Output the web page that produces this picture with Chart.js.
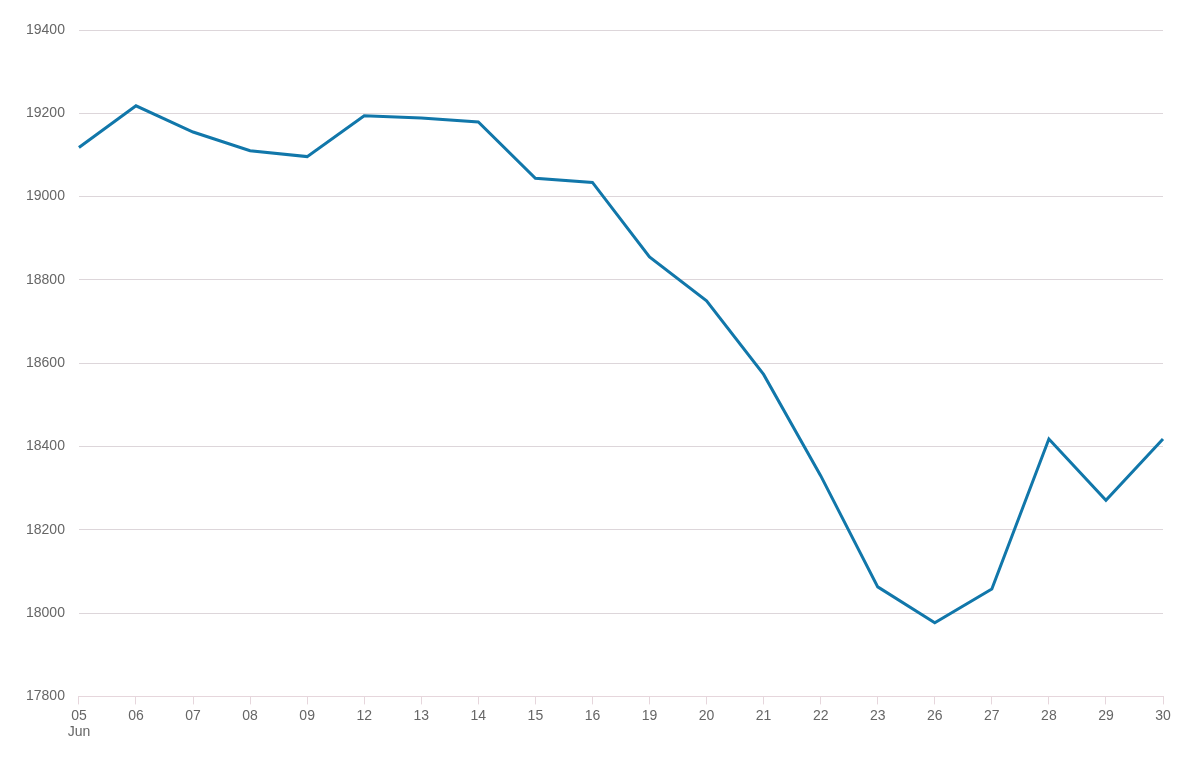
<!DOCTYPE html>
<html>
<head>
<meta charset="utf-8">
<script src="https://cdn.jsdelivr.net/npm/chart.js@4"></script>
<style>
  html, body { margin: 0; padding: 0; background: #fff; }
  #wrap { width: 1195px; height: 774px; }
</style>
</head>
<body>
<div id="wrap"><canvas id="chart"></canvas></div>
<script>
// Trading days in June
const days = ["05", "06", "07", "08", "09", "12", "13", "14", "15", "16",
  "19", "20", "21", "22", "23", "26", "27", "28", "29", "30"];
const values = [19118, 19218, 19155, 19110, 19096, 19194, 19189, 19179, 19044, 19034,
  18855, 18750, 18573, 18330, 18063, 17977, 18058, 18418, 18271, 18418];

const labels = days.map((d, i) => (i === 0 ? [d, "Jun"] : d));

const ctx = document.getElementById("chart").getContext("2d");
new Chart(ctx, {
  type: "line",
  data: {
    labels: labels,
    datasets: [{
      data: values,
      borderColor: "#1177aa",
      borderWidth: 3,
      pointRadius: 0,
      tension: 0,
      fill: false,
    }],
  },
  options: {
    responsive: true,
    maintainAspectRatio: false,
    animation: false,
    layout: { padding: { left: 12, right: 32, top: 30, bottom: 30 } },
    plugins: { legend: { display: false }, tooltip: { enabled: false } },
    scales: {
      x: {
        offset: false,
        grid: { drawOnChartArea: false, color: "#e6d6dc", tickLength: 8 },
        border: { color: "#e6d6dc" },
        ticks: { color: "#666", font: { family: "Liberation Sans", size: 14 }, maxRotation: 0, autoSkip: false },
      },
      y: {
        min: 17800,
        max: 19400,
        ticks: {
          stepSize: 200, color: "#666", font: { family: "Liberation Sans", size: 14 }, padding: 14,
          callback: (v) => String(v),
        },
        grid: { color: "#ddd6da", drawTicks: false },
        border: { display: false },
      },
    },
  },
});
</script>
</body>
</html>
